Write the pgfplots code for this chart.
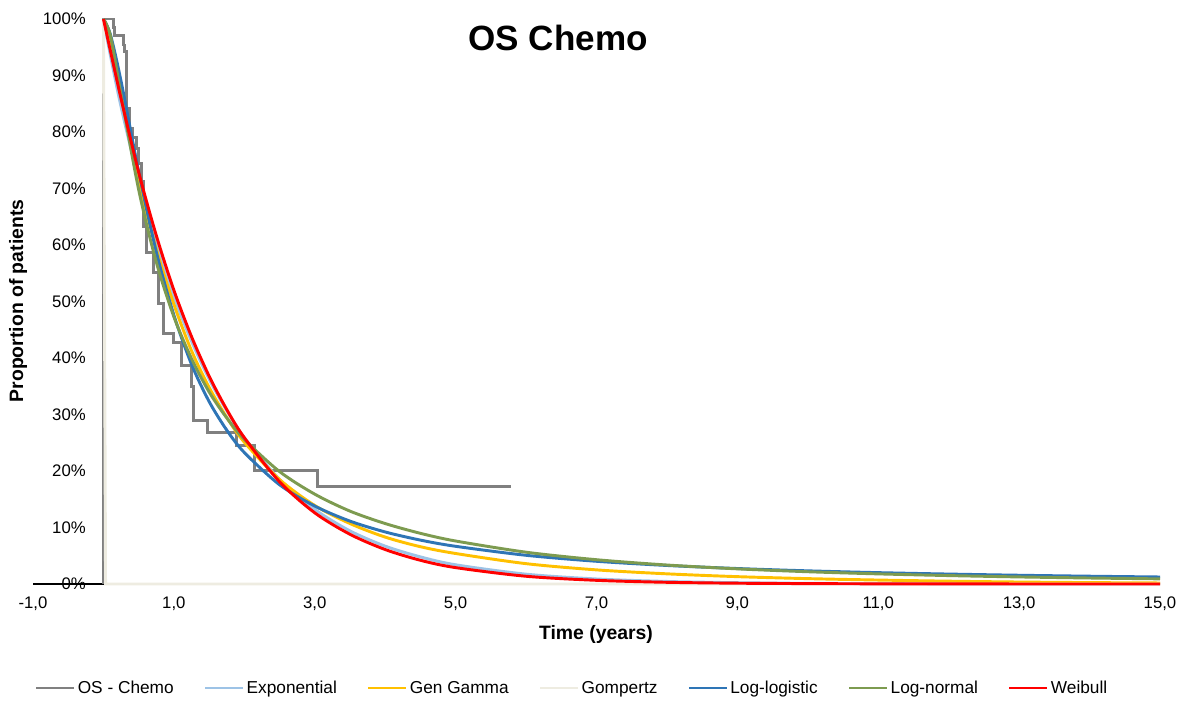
\documentclass[border=0pt]{standalone}
\usepackage{fontspec}
\setmainfont{Liberation Sans}
\usepackage{pgfplots}
\pgfplotsset{compat=1.18}
\definecolor{cOS}{HTML}{808080}
\definecolor{cExp}{HTML}{9DC3E6}
\definecolor{cGG}{HTML}{FFC000}
\definecolor{cGomp}{HTML}{EEECE1}
\definecolor{cLL}{HTML}{2E75B6}
\definecolor{cLN}{HTML}{7D9B50}
\definecolor{cWei}{HTML}{FF0000}
\begin{document}
\begin{tikzpicture}
\useasboundingbox (-24.75bp,-88.5bp) rectangle (858.75bp,438bp);
\begin{axis}[
  at={(0,0)}, anchor=south west,
  scale only axis, width=845.25bp, height=423.75bp,
  xmin=-1, xmax=15, ymin=0, ymax=1,
  axis x line*=bottom, axis y line*=left,
  y axis line style={draw=none},
  x axis line style={black, line width=1.1bp, -},
  xtick={-1,1,3,5,7,9,11,13,15},
  xticklabels={{-1,0},{1,0},{3,0},{5,0},{7,0},{9,0},{11,0},{13,0},{15,0}},
  ytick={0,0.1,0.2,0.3,0.4,0.5,0.6,0.7,0.8,0.9,1},
  yticklabels={0\%,10\%,20\%,30\%,40\%,50\%,60\%,70\%,80\%,90\%,100\%},
  major tick length=0pt,
  tick label style={font=\fontsize{12.6}{15}\selectfont, text=black},
  xticklabel style={anchor=north, inner sep=0pt, yshift=-9.75bp},
  yticklabel style={anchor=east, inner sep=0pt, xshift=39.75bp},
  clip=false,
  legend columns=-1,
  legend style={draw=none, fill=none, at={(0.4783,-0.1841)}, anchor=center,
    font=\fontsize{13}{15}\selectfont, nodes={inner xsep=1.5bp},
    /tikz/every even column/.append style={column sep=21bp}},
  legend image code/.code={\draw[#1] (0bp,0bp) -- (28.5bp,0bp);},
  every axis plot/.append style={line width=2.2bp},
]
\addplot[cOS, const plot] coordinates {
(0,0) (0,1) (0.146,0.985) (0.16,0.970) (0.28,0.954) (0.30,0.942) (0.33,0.842)
(0.37,0.806) (0.42,0.79) (0.47,0.77) (0.50,0.745) (0.54,0.712) (0.575,0.632)
(0.61,0.586) (0.706,0.552) (0.777,0.497) (0.848,0.444) (0.99,0.427) (1.11,0.386)
(1.25,0.35) (1.28,0.290) (1.48,0.268) (1.89,0.245) (2.14,0.201) (3.04,0.172) (5.78,0.172)
};
\addlegendentry{OS - Chemo}
\addplot[cExp, smooth] coordinates {
(0,1) (0.1,0.935) (0.25,0.845) (0.5,0.714) (0.75,0.603) (1,0.509) (1.25,0.430)
(1.5,0.363) (1.75,0.307) (2,0.259) (2.5,0.185) (3,0.132) (3.5,0.094) (4,0.067)
(4.5,0.048) (5,0.034) (6,0.0174) (7,0.0089) (8,0.0045) (9,0.0023) (10,0.0012)
(12,0.0003) (15,0)
};
\addlegendentry{Exponential}
\addplot[cGG, smooth] coordinates {
(0,1) (0.1,0.965) (0.25,0.875) (0.5,0.715) (0.75,0.593) (1,0.495) (1.25,0.413)
(1.5,0.348) (1.75,0.295) (2,0.251) (2.5,0.185) (3,0.139) (3.5,0.107) (4,0.083)
(4.5,0.066) (5,0.054) (6,0.036) (7,0.025) (8,0.018) (9,0.013) (10,0.0095)
(11,0.007) (12,0.005) (13,0.0035) (14,0.0025) (15,0.0018)
};
\addlegendentry{Gen Gamma}
\addplot[cGomp] coordinates {(0,1) (0.03,0) (15,0)};
\addlegendentry{Gompertz}
\addplot[cLL, smooth] coordinates {
(0,1) (0.1,0.972) (0.25,0.890) (0.5,0.730) (0.75,0.588) (1,0.476) (1.25,0.389)
(1.5,0.323) (1.75,0.2725) (2,0.2327) (2.5,0.1757) (3,0.138) (3.5,0.1113) (4,0.0921)
(4.5,0.0777) (5,0.0667) (6,0.0508) (7,0.0402) (8,0.0328) (9,0.0274) (10,0.0233)
(11,0.0201) (12,0.0176) (13,0.0155) (14,0.0138) (15,0.0124)
};
\addlegendentry{Log-logistic}
\addplot[cLN, smooth] coordinates {
(0,1) (0.1,0.970) (0.25,0.866) (0.5,0.698) (0.75,0.570) (1,0.473) (1.25,0.399)
(1.5,0.340) (1.75,0.294) (2,0.256) (2.5,0.199) (3,0.159) (3.5,0.129) (4,0.107)
(4.5,0.0897) (5,0.0761) (6,0.0563) (7,0.0430) (8,0.0336) (9,0.0268) (10,0.0217)
(11,0.0179) (12,0.0149) (13,0.0125) (14,0.0106) (15,0.0091)
};
\addlegendentry{Log-normal}
\addplot[cWei, smooth] coordinates {
(0,1) (0.1,0.943) (0.25,0.859) (0.5,0.729) (0.75,0.617) (1,0.520) (1.25,0.438)
(1.5,0.368) (1.75,0.309) (2,0.259) (2.5,0.181) (3,0.126) (3.5,0.088) (4,0.061)
(4.5,0.042) (5,0.029) (6,0.0137) (7,0.0065) (8,0.0030) (9,0.0014) (10,0.0007)
(11,0.0003) (12,0.0001) (15,0)
};
\addlegendentry{Weibull}
\end{axis}
\node[font=\fontsize{26.4}{30}\selectfont\bfseries, inner sep=0pt] at (393.75bp,409.5bp) {OS Chemo};
\node[font=\fontsize{14.6}{17}\selectfont\bfseries, inner sep=0pt] at (422.25bp,-37.5bp) {Time (years)};
\node[font=\fontsize{14.6}{17}\selectfont\bfseries, inner sep=0pt, rotate=90] at (-11.25bp,212.25bp) {Proportion of patients};
\end{tikzpicture}
\end{document}
